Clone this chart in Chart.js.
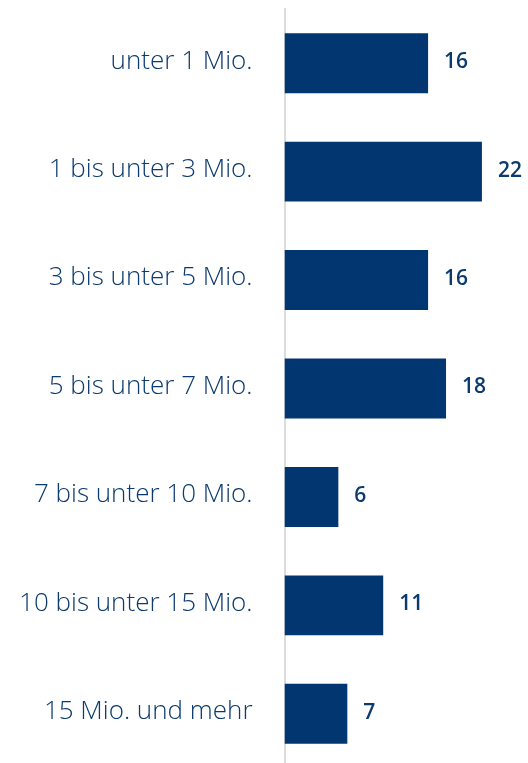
<!DOCTYPE html>
<html>
<head>
<meta charset="utf-8">
<script src="https://cdn.jsdelivr.net/npm/chart.js@4"></script>
<style>
  html, body { margin: 0; padding: 0; background: #ffffff; overflow: hidden; }
  #wrap { width: 528px; height: 768px; }
</style>
</head>
<body>
<div id="wrap"><canvas id="c" width="528" height="768"></canvas></div>
<script>
const categories = [
  "unter 1 Mio.",
  "1 bis unter 3 Mio.",
  "3 bis unter 5 Mio.",
  "5 bis unter 7 Mio.",
  "7 bis unter 10 Mio.",
  "10 bis unter 15 Mio.",
  "15 Mio. und mehr"
];
const values = [16, 22, 16, 18, 6, 11, 7];

const barColor = "#023670";
const textColor = "#0a3a6e";
const labelFont = { family: "'Open Sans', sans-serif", size: 26, weight: "300" };
const valueFont = "600 21px 'Open Sans', sans-serif";

const valueLabels = {
  id: "valueLabels",
  afterDatasetsDraw(chart) {
    const ctx = chart.ctx;
    const meta = chart.getDatasetMeta(0);
    ctx.save();
    ctx.font = valueFont;
    ctx.fillStyle = textColor;
    ctx.textAlign = "left";
    ctx.textBaseline = "middle";
    meta.data.forEach((bar, i) => {
      ctx.fillText(String(values[i]), bar.x + 16, bar.y - 1);
    });
    ctx.restore();
  }
};

new Chart(document.getElementById("c"), {
  type: "bar",
  data: {
    labels: categories,
    datasets: [{
      data: values,
      backgroundColor: barColor,
      borderWidth: 0,
      categoryPercentage: 1.0,
      barPercentage: 0.553
    }]
  },
  options: {
    indexAxis: "y",
    responsive: false,
    animation: false,
    devicePixelRatio: 1,
    layout: { padding: { top: 9, right: 3, bottom: 0, left: 0 } },
    plugins: { legend: { display: false }, tooltip: { enabled: false } },
    scales: {
      x: {
        min: 0, max: 26.8,
        display: false
      },
      y: {
        grid: { display: false, drawTicks: false },
        border: { display: true, color: "#dcdcdc", width: 2 },
        ticks: {
          color: textColor,
          font: labelFont,
          padding: 32,
          labelOffset: -2
        },
        afterFit(scale) {
          scale.width = 284.5;
          scale.paddingTop = 0;
          scale.paddingBottom = 0;
        }
      }
    }
  },
  plugins: [valueLabels]
});
</script>
</body>
</html>
